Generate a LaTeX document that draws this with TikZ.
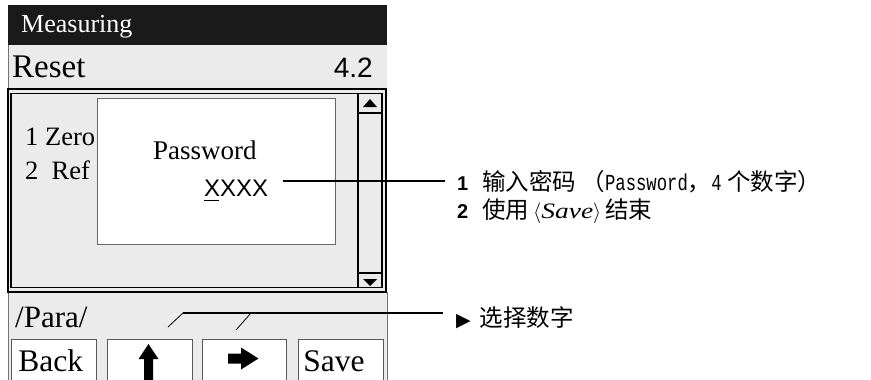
\documentclass[tikz,border=0pt]{standalone}
\usepackage{fontspec}
\usepackage{graphicx}
\setmainfont{Liberation Serif}
\newfontfamily\cjk{Noto Sans CJK SC}
\newfontfamily\arial{Liberation Sans}
\newfontfamily\mono{Liberation Mono}
\newfontfamily\symb{DejaVu Sans}
\usetikzlibrary{positioning}

\definecolor{panel}{HTML}{EBEBEB}
\definecolor{titlebar}{HTML}{1A1A1A}

\begin{document}
\begin{tikzpicture}[x=1pt, y=-1pt,
    screen/.style={font=\fontsize{27}{27}\selectfont, inner sep=0pt, anchor=base west},
    key/.style={draw=black!65, fill=white, line width=0.9pt},
    note/.style={font=\cjk\fontsize{23.5}{23.5}\selectfont, inner sep=0pt, anchor=base west},
    leader/.style={line width=1.1pt}]

      \newcommand\SCRL{8}
      \newcommand\SCRR{387}
      \newcommand\BIG{\fontsize{31.5}{31.5}\selectfont}
      \newcommand\NUM[1]{{\arial\bfseries\fontsize{20}{20}\selectfont #1}\hspace{14pt}}
      \newcommand\MONO[1]{\scalebox{0.75}[1]{\mono\fontsize{23}{23}\selectfont #1}}
      \newcommand\ANGLE[1]{{\fontsize{20}{20}\selectfont$\langle$}\scalebox{1.25}[1]{\rmfamily\itshape\fontsize{22}{22}\selectfont #1}{\fontsize{20}{20}\selectfont$\rangle$}}

      \useasboundingbox (0,0) rectangle (871,380);

      % display background
      \fill[panel] (\SCRL,45) rectangle (\SCRR,386);
      \draw[black!55, line width=0.8pt] (\SCRL,45) -- (\SCRL,386) (\SCRR,292) -- (\SCRR,386);
      \fill[titlebar] (\SCRL,5) rectangle (\SCRR,45);
      \node[screen, text=white, font=\fontsize{26}{26}\selectfont] (title) at (21,32) {Measuring};
      \node[screen, font=\fontsize{33}{33}\selectfont] (reset) at (12,77) {Reset};
      \node[screen, anchor=base east, font=\arial\fontsize{28}{28}\selectfont] (version) at (373,77) {4.2};

      % list area with scroll bar
      \draw[line width=1.3pt] (\SCRL,89) rectangle (386,292);
      \draw[line width=1.6pt] (11,93.5) rectangle (382,287.5);
      \draw[line width=1.5pt] (358,93.5) -- (358,287.5) (358,113) -- (382,113) (358,273) -- (382,273);
      \fill (363,107) -- (377,107) -- (370,99) -- cycle;
      \fill (363,279) -- (377,279) -- (370,286) -- cycle;
      \node[screen, font=\fontsize{26.5}{26.5}\selectfont] (zero) at (25,145) {1 Zero};
      \node[screen, font=\fontsize{26.5}{26.5}\selectfont] (ref) at (25,179) {2\ \ Ref};

      % password dialog
      \draw[black!60, fill=white, line width=1pt] (97,98) rectangle (335,244);
      \node[screen] (password) at (153,159) {Password};
      \node[screen, font=\arial\fontsize{24}{24}\selectfont] (xxxx) at (204,196) {XXXX};
      \draw[line width=1pt] (204,200.5) -- (219,200.5);

      % soft keys
      \node[screen, font=\fontsize{31}{31}\selectfont] (para) at (15,327) {/Para/};
      \draw[key] (11,339) rectangle (96,386) (18,371) node[screen, font=\BIG](back){Back};
      \draw[key] (107,339) rectangle (192,386);
      \draw[key] (202,339) rectangle (286,386);
      \draw[key] (298,339) rectangle (383,386) (303,371) node[screen, font=\BIG](save){Save};
      \fill (148.5,344) -- (158.5,359) -- (153,359) -- (153,381) -- (144,381) -- (144,359) -- (138.5,359) -- cycle;
      \fill (258.5,358.5) -- (241,347.5) -- (241,353.5) -- (228,353.5) -- (228,363.5) -- (241,363.5) -- (241,369.5) -- cycle;

      % notes
      \node[note] (enter) at (457,190) {\NUM{1}输入密码 （\MONO{Password}，\MONO{4} 个数字）};
      \node[note] (finish) at ([yshift=-28pt]enter.base west) {\NUM{2}使用\,\ANGLE{Save}\,结束};
      \node[note] (select) at (456,326) {{\symb\fontsize{19}{19}\selectfont ▶}\hspace{9pt}选择数字};

      \coordinate (pw) at (283,181);
      \coordinate (tick1) at (183,313);
      \coordinate (tick2) at (251,313);
      \coordinate (foot1) at (168,327);
      \coordinate (foot2) at (236,330);

      \draw[leader] (pw) -- (pw -| enter.west) [shorten >=12pt];
      \draw[line width=0.8pt] (foot1) -- (tick1) (foot2) -- (tick2);
      \draw[leader] (tick1) -- (tick1 -| select.west) [shorten >=13pt];

\end{tikzpicture}
\end{document}
